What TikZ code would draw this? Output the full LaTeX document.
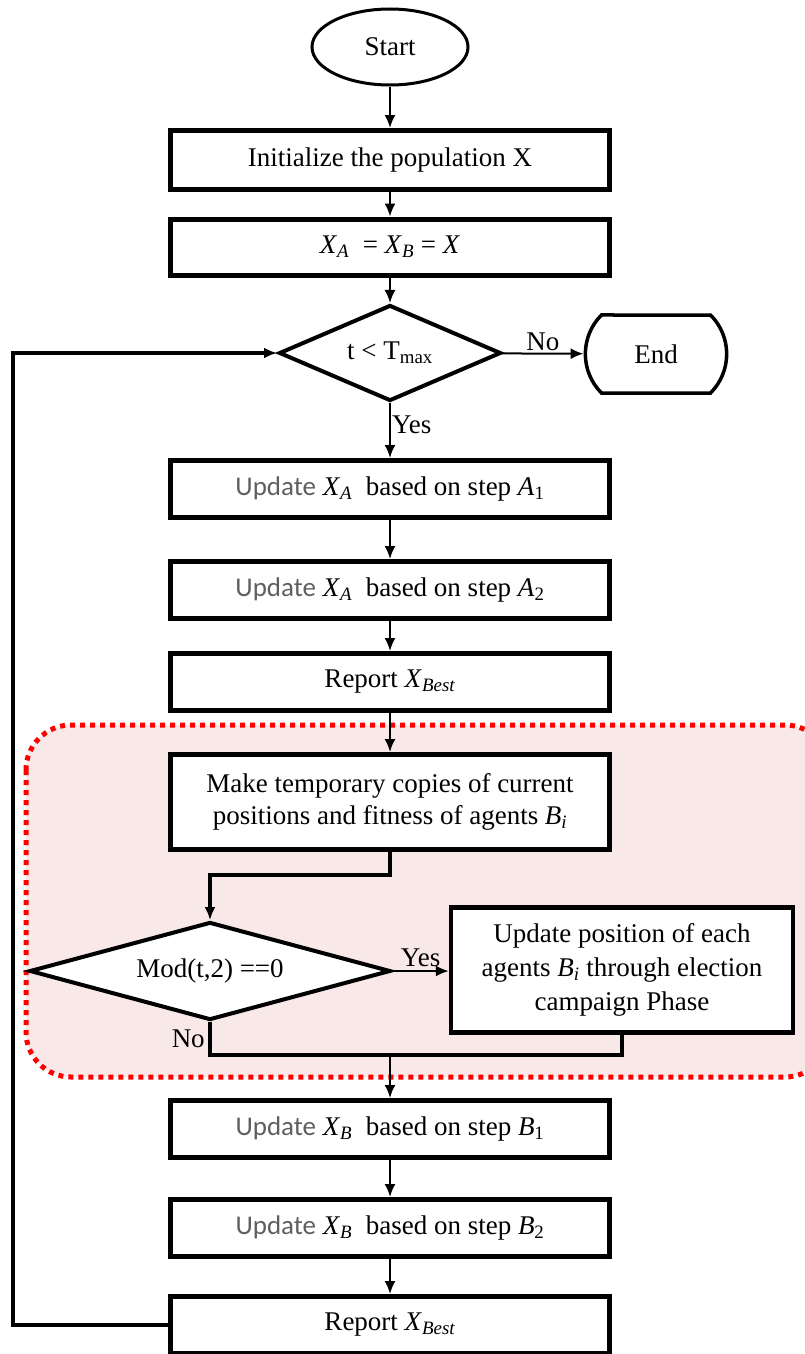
\documentclass[tikz,border=0pt]{standalone}
\usepackage{fontspec}
\setmainfont{Liberation Serif}
\newfontfamily\updfont{Carlito}
\usetikzlibrary{positioning,calc,shapes.geometric,shapes.misc,arrows.meta}
\definecolor{regioncolor}{RGB}{248,232,232}
\definecolor{updcolor}{RGB}{95,95,95}
\newcommand{\Upd}{{\updfont\color{updcolor}Update}}
\newcommand{\Var}[2]{\textit{#1}\textsubscript{\textit{#2}}}

\begin{document}
\begin{tikzpicture}[x=1pt,y=-1pt,
    font=\fontsize{27}{32}\selectfont,
    >={Latex[length=13pt,width=11pt]},
    box/.style={draw,line width=5pt,fill=white,minimum width=439pt,minimum height=57pt,inner sep=2pt,align=center},
    decision/.style={draw,diamond,line width=4pt,fill=white,inner sep=0pt},
    flow/.style={line width=2pt,->},
    thickflow/.style={line width=4.5pt}]
    \useasboundingbox (0,0) rectangle (805,1354);
    \draw[red,line width=5pt,dash pattern=on 5pt off 5pt,fill=regioncolor,rounded corners=45pt] (26,725) rectangle (830,1077);

    \node[draw,ellipse,line width=3pt,minimum width=156pt,minimum height=76pt] at (390,47) (Start) {Start};
    \node[box,minimum height=59pt] at (390,160) (Init) {Initialize the population X};
    \node[box,minimum height=56pt] at (390,247) (Copy) {\Var{X}{A}\ \ = \Var{X}{B} = \textit{X}};
    \node[decision,aspect=2.26,minimum width=222pt,minimum height=96pt] at (390,353) (Loop) {t < T\textsubscript{max}};
    \node[draw,rounded rectangle,rounded rectangle arc length=90,line width=3.5pt,minimum width=148pt,minimum height=78pt] at (656,354) (End) {End};
    \node[box] at (390,489) (StepAOne) {\Upd\ \Var{X}{A}\ \ based on step \Var{A}{\upshape 1}};
    \node[box] at (390,590) (StepATwo) {\Upd\ \Var{X}{A}\ \ based on step \Var{A}{\upshape 2}};
    \node[box] at (390,682) (ReportA) {Report \Var{X}{Best}};
    \node[box,minimum height=95pt] at (390,802) (Copies) {Make temporary copies of current\\positions and fitness of agents \Var{B}{i}};
    \node[decision,aspect=3.58,minimum width=361pt,minimum height=98pt] at (210,971) (ModCheck) {Mod(t,2) ==0};
    \node[box,line width=4.5pt,minimum width=342pt,minimum height=125pt,font=\fontsize{27}{34}\selectfont] at (622,970) (Campaign) {Update position of each\\agents \Var{B}{i} through election\\campaign Phase};
    \node[box] at (390,1129) (StepBOne) {\Upd\ \Var{X}{B}\ \ based on step \Var{B}{\upshape 1}};
    \node[box] at (390,1228) (StepBTwo) {\Upd\ \Var{X}{B}\ \ based on step \Var{B}{\upshape 2}};
    \node[box] at (390,1325) (ReportB) {Report \Var{X}{Best}};
    \coordinate (Merge) at (390,1055);
    \coordinate (LoopCorner) at (13,1325);

    \draw[flow] (Start) -- (Init);
    \draw[flow] (Init) -- (Copy);
    \draw[flow] (Copy) -- (Loop);
    \draw[flow] (Loop) -- node[above,inner sep=2pt] {No} (End);
    \draw[flow] (Loop) -- node[pos=0.4,right,inner sep=1pt] {Yes} (StepAOne);
    \draw[flow] (StepAOne) -- (StepATwo);
    \draw[flow] (StepATwo) -- (ReportA);
    \draw[flow] (ReportA) -- (Copies);
    \draw[thickflow,->] (Copies.south) -- ++(0,23) -| (ModCheck.north);
    \draw[flow] (ModCheck.east) -- node[above,inner sep=3pt] {Yes} (ModCheck.east -| Campaign.west);
    \draw[thickflow] (ModCheck.south) |- node[pos=0.25,left,inner sep=3pt] {No} (Campaign.south |- Merge) -- (Campaign.south);
    \draw[flow] (Merge) -- (StepBOne);
    \draw[flow] (StepBOne) -- (StepBTwo);
    \draw[flow] (StepBTwo) -- (ReportB);
    % back to the loop test
    \draw[thickflow,->] (ReportB.west) -- (ReportB.west -| LoopCorner) |- (Loop.west);
\end{tikzpicture}
\end{document}
